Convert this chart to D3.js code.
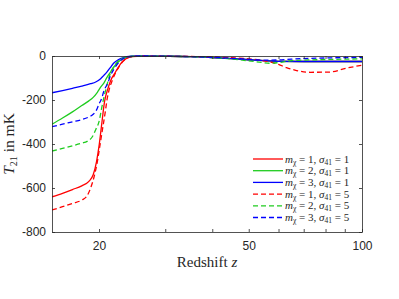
<!DOCTYPE html>
<html>
<head>
<meta charset="UTF-8">
<script src="https://cdn.jsdelivr.net/npm/d3@7"></script>
<style>
  body { margin: 0; background: #fff; }
</style>
</head>
<body>
<div id="chart"></div>
<script>
// ticks
const xMajor = [20, 50, 100];
const xMinor = [30, 40, 60, 70, 80, 90];
const yTicks = [-800, -600, -400, -200, 0];

// legend parameters
const massValues = [1, 2, 3, 1, 2, 3];
const sigmaValues = [1, 1, 1, 5, 5, 5];

// [z, T21 in mK]
const redSolid = [[15,-640],[16,-624],[17,-607],[18,-590],[18.8,-570],[19.3,-540],[19.7,-480],[20.0,-410],[20.3,-320],[20.7,-205],[21.1,-150],[21.5,-110],[22.0,-80],[22.5,-52],[23.0,-28],[23.6,-12],[24.5,-3],[26,0],[30,-1],[35,-3],[40,-7],[45,-12],[50,-17],[55,-21],[60,-24],[70,-25],[80,-25],[100,-25]];
const greenSolid = [[15,-310],[16,-282],[17,-254],[18,-225],[18.8,-204],[19.3,-188],[19.8,-165],[20.2,-142],[20.6,-123],[21.0,-97],[21.5,-71],[21.9,-50],[22.3,-33],[22.8,-19],[23.4,-9],[24.3,-2],[26,0],[30,-1],[35,-3],[40,-7],[45,-12],[50,-17],[55,-21],[60,-24],[70,-25],[80,-25],[100,-25]];
const blueSolid = [[15,-167],[16,-157],[17,-147],[18,-137],[19,-126],[19.6,-118],[20.2,-103],[20.6,-88],[20.9,-77],[21.4,-54],[21.9,-32],[22.5,-17],[23.2,-7],[24.3,-1],[26,0],[30,-1],[35,-3],[40,-7],[45,-12],[50,-17],[55,-21],[60,-24],[70,-25],[80,-25],[100,-25]];
const redDashed = [[15,-700],[16,-685],[17,-670],[18,-655],[18.6,-635],[19.0,-600],[19.4,-550],[19.8,-480],[20.1,-410],[20.4,-340],[20.8,-250],[21.0,-200],[21.3,-150],[21.7,-110],[22.1,-78],[22.6,-50],[23.1,-27],[23.7,-11],[24.5,-3],[26,0],[30,-1],[40,-4],[45,-8],[50,-13],[55,-22],[60,-38],[63,-53],[67,-66],[73,-74],[82,-73],[91,-55],[100,-42]];
const greenDashed = [[15,-432],[16,-420],[17,-408],[18,-396],[18.6,-388],[19.2,-367],[19.6,-335],[20.0,-298],[20.4,-223],[20.9,-145],[21.5,-73],[22.0,-45],[22.4,-27],[23.0,-12],[24,-3],[26,0],[30,-1],[40,-7],[50,-22],[54,-29],[57,-33],[60,-30],[65,-21],[72,-18],[80,-16],[100,-13]];
const blueDashed = [[15,-321],[16,-310],[17,-299],[18,-289],[18.8,-277],[19.3,-265],[19.7,-245],[20.0,-218],[20.25,-200],[20.65,-155],[21.1,-123],[21.5,-86],[21.9,-60],[22.3,-40],[22.7,-25],[23.2,-12],[24.0,-4],[26,0],[30,-1],[40,-6],[50,-15],[55,-19],[60,-18],[65,-14],[80,-9],[100,-6]];

const series = [
  { data: redSolid,    color: "#ff0000", dash: null },
  { data: greenSolid,  color: "#1fcc1f", dash: null },
  { data: blueSolid,   color: "#0000ff", dash: null },
  { data: redDashed,   color: "#ff0000", dash: "5,3" },
  { data: greenDashed, color: "#1fcc1f", dash: "5,3" },
  { data: blueDashed,  color: "#0000ff", dash: "5,3" }
];

const width = 399, height = 299;
const marginLeft = 52, marginRight = 37, marginTop = 56, marginBottom = 67;
const axisColor = "#262626";

const x = d3.scaleLog()
  .domain([15, 100])
  .range([marginLeft, width - marginRight]);

const y = d3.scaleLinear()
  .domain([-800, 0])
  .range([height - marginBottom, marginTop]);

const svg = d3.select("#chart").append("svg")
  .attr("width", width)
  .attr("height", height)
  .attr("viewBox", [0, 0, width, height]);

svg.append("defs").append("clipPath").attr("id", "plot")
  .append("rect")
  .attr("x", marginLeft).attr("y", marginTop - 2)
  .attr("width", width - marginLeft - marginRight)
  .attr("height", height - marginTop - marginBottom + 2);

// curves
const line = d3.line()
  .x(d => x(d[0]))
  .y(d => y(d[1]))
  .curve(d3.curveMonotoneX);

svg.append("g")
  .attr("clip-path", "url(#plot)")
  .selectAll("path")
  .data(series)
  .join("path")
    .attr("fill", "none")
    .attr("stroke", d => d.color)
    .attr("stroke-width", 1.3)
    .attr("stroke-dasharray", d => d.dash)
    .attr("d", d => line(d.data));

// axes (box with inward ticks)
const tickLen = 3;
const allX = xMajor.concat(xMinor);

svg.append("g")
  .attr("transform", `translate(0,${height - marginBottom})`)
  .call(d3.axisBottom(x).tickValues(allX).tickSizeInner(-tickLen).tickSizeOuter(0)
    .tickFormat(d => xMajor.includes(d) ? d : ""))
  .call(g => g.select(".domain").attr("stroke", axisColor).attr("stroke-width", 0.8))
  .call(g => g.selectAll(".tick line").attr("stroke", axisColor).attr("stroke-width", 0.8))
  .call(g => g.selectAll(".tick text").attr("y", 9).attr("dy", "0.71em")
    .attr("fill", axisColor).attr("font-family", "Liberation Sans, Arial, sans-serif").attr("font-size", 12));

svg.append("g")
  .attr("transform", `translate(0,${marginTop})`)
  .call(d3.axisTop(x).tickValues(allX).tickSizeInner(-tickLen).tickSizeOuter(0).tickFormat(""))
  .call(g => g.select(".domain").attr("stroke", axisColor).attr("stroke-width", 0.8))
  .call(g => g.selectAll(".tick line").attr("stroke", axisColor).attr("stroke-width", 0.8));

svg.append("g")
  .attr("transform", `translate(${marginLeft},0)`)
  .call(d3.axisLeft(y).tickValues(yTicks).tickSizeInner(-tickLen).tickSizeOuter(0)
    .tickFormat(d => d === 0 ? "0" : "-" + Math.abs(d)))
  .call(g => g.select(".domain").attr("stroke", axisColor).attr("stroke-width", 0.8))
  .call(g => g.selectAll(".tick line").attr("stroke", axisColor).attr("stroke-width", 0.8))
  .call(g => g.selectAll(".tick text").attr("x", -6)
    .attr("fill", axisColor).attr("font-family", "Liberation Sans, Arial, sans-serif").attr("font-size", 12));

svg.append("g")
  .attr("transform", `translate(${width - marginRight},0)`)
  .call(d3.axisRight(y).tickValues(yTicks).tickSizeInner(-tickLen).tickSizeOuter(0).tickFormat(""))
  .call(g => g.select(".domain").attr("stroke", axisColor).attr("stroke-width", 0.8))
  .call(g => g.selectAll(".tick line").attr("stroke", axisColor).attr("stroke-width", 0.8));

// axis labels
const serif = "Liberation Serif, Times New Roman, serif";

svg.append("text")
  .attr("x", (marginLeft + width - marginRight) / 2)
  .attr("y", 267)
  .attr("text-anchor", "middle")
  .attr("font-family", serif)
  .attr("font-size", 15)
  .attr("fill", axisColor)
  .call(t => {
    t.append("tspan").text("Redshift ");
    t.append("tspan").attr("font-style", "italic").text("z");
  });

svg.append("text")
  .attr("transform", `translate(14,${(marginTop + height - marginBottom) / 2}) rotate(-90)`)
  .attr("text-anchor", "middle")
  .attr("font-family", serif)
  .attr("font-size", 15.5)
  .attr("fill", axisColor)
  .call(t => {
    t.append("tspan").attr("font-style", "italic").text("T");
    t.append("tspan").attr("font-size", 10).attr("dy", 3).text("21");
    t.append("tspan").attr("dy", -3).text(" in mK");
  });

// legend
const legX = 253, legY = 159, legStep = 11.7, legLine = 30;
const leg = svg.append("g")
  .selectAll("g")
  .data(series)
  .join("g")
    .attr("transform", (d, i) => `translate(${legX},${legY + i * legStep})`);

leg.append("line")
  .attr("x1", 0).attr("x2", legLine)
  .attr("stroke", d => d.color)
  .attr("stroke-width", 1.3)
  .attr("stroke-dasharray", d => d.dash);

leg.append("text")
  .attr("x", legLine + 2)
  .attr("y", 3.5)
  .attr("font-family", serif)
  .attr("font-size", 11)
  .attr("fill", axisColor)
  .each(function(d, i) {
    const t = d3.select(this);
    t.append("tspan").attr("font-style", "italic").text("m");
    t.append("tspan").attr("font-size", 7.5).attr("dy", 2).text("χ");
    t.append("tspan").attr("dy", -2).text(` = ${massValues[i]}, `);
    t.append("tspan").attr("font-style", "italic").text("σ");
    t.append("tspan").attr("font-size", 7.5).attr("dy", 2).text("41");
    t.append("tspan").attr("dy", -2).text(` = ${sigmaValues[i]}`);
  });
</script>
</body>
</html>
